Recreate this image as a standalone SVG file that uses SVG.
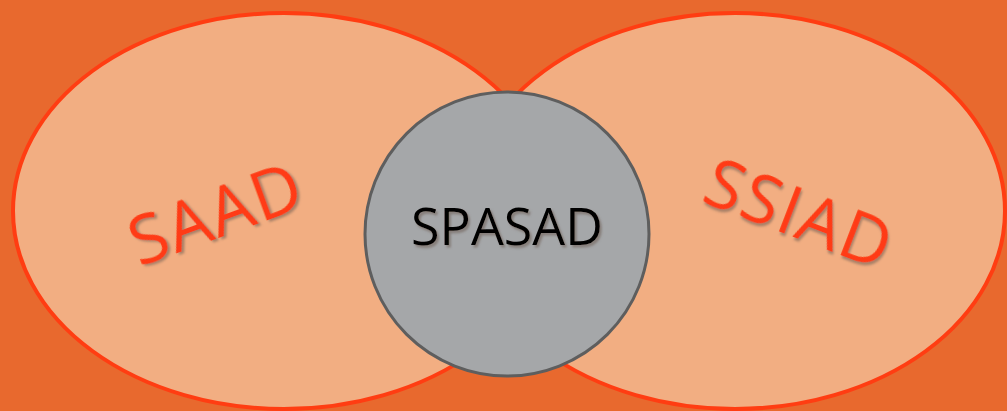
<svg xmlns="http://www.w3.org/2000/svg" width="1007" height="411" viewBox="0 0 1007 411">
  <defs>
    <style>
      .bg { fill: #E8692E; }
      .lobe { fill: #F2AE82; stroke: #FF3D12; stroke-width: 4; }
      .core { fill: #A5A7A9; stroke: #5E5E5E; stroke-width: 3; }
      .red { font-family: "Open Sans", "Noto Sans", sans-serif; font-size: 68px; fill: #FF3A12; letter-spacing: 2px; }
      .dark { font-family: "Open Sans", "Noto Sans", sans-serif; font-size: 52px; fill: #000000; }
    </style>
    <filter id="shadow" x="-20%" y="-20%" width="140%" height="140%">
      <feDropShadow dx="2" dy="2.5" stdDeviation="1.2" flood-color="#6b5a50" flood-opacity="0.55"/>
    </filter>
  </defs>
  <rect class="bg" x="0" y="0" width="1007" height="411"/>
  <g id="saad">
    <ellipse class="lobe" cx="284" cy="211" rx="271" ry="198"/>
  </g>
  <g id="ssiad">
    <ellipse class="lobe" cx="735" cy="211" rx="270" ry="198"/>
  </g>
  <g id="spasad">
    <circle class="core" cx="507" cy="234" r="142"/>
    <text class="dark" x="507" y="245" text-anchor="middle" filter="url(#shadow)">SPASAD</text>
  </g>
  <g id="labels">
    <text class="red" x="224" y="236" text-anchor="middle" transform="rotate(-20 224 236)" filter="url(#shadow)">SAAD</text>
    <text class="red" x="791" y="236" text-anchor="middle" transform="rotate(21 791 236)" filter="url(#shadow)">SSIAD</text>
  </g>
  <g id="connectors"></g>
</svg>
